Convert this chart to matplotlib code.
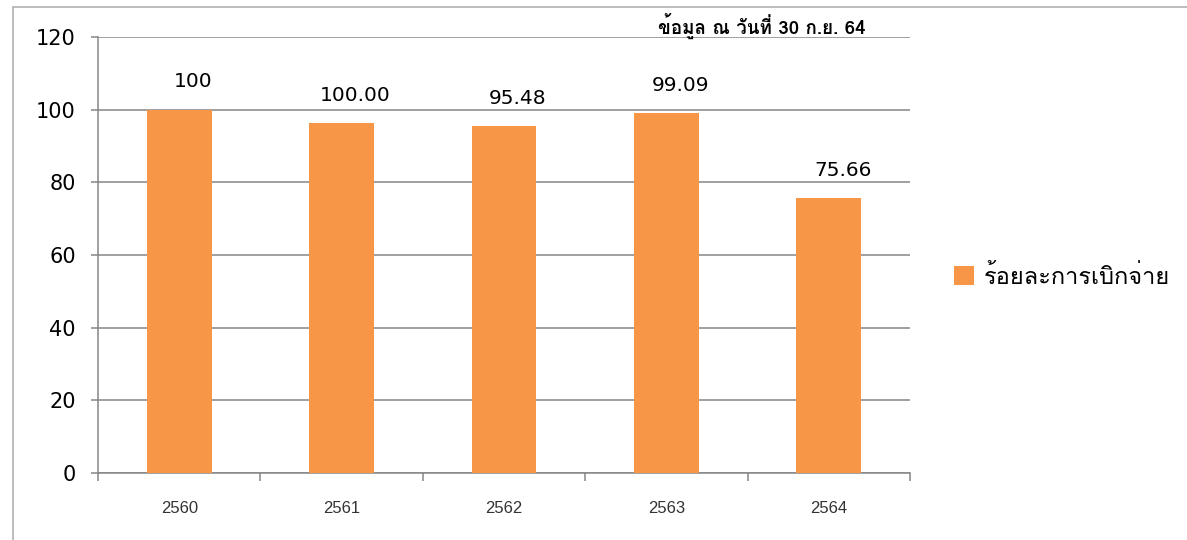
import numpy as np
import matplotlib
matplotlib.use("Agg")
import matplotlib.pyplot as plt
from matplotlib import font_manager
from matplotlib.ft2font import FT2Font
from matplotlib.patches import Rectangle

years = ["2560", "2561", "2562", "2563", "2564"]
values = [100.0, 96.3, 95.48, 99.09, 75.66]
value_labels = ["100", "100.00", "95.48", "99.09", "75.66"]
series_name = "ร้อยละการเบิกจ่าย"
note = "ข้อมูล ณ วันที่ 30 ก.ย. 64"


def find_thai_font():
    # pick any installed font that has Thai glyphs
    for f in font_manager.fontManager.ttflist:
        try:
            if ord("ก") in FT2Font(f.fname).get_charmap():
                return f.name
        except Exception:
            pass
    return "DejaVu Sans"


thai = find_thai_font()
plt.rcParams["font.family"] = [thai, "DejaVu Sans"]

bar_color = "#F79646"
grid_color = "#868686"

fig = plt.figure(figsize=(11.87, 5.40), dpi=100)
fig.patches.append(Rectangle((13 / 1187, -0.1), 1.2, 1.1 - 7 / 540, transform=fig.transFigure,
                             fill=False, edgecolor="#B0B0B0", linewidth=1.2))
ax = fig.add_axes([98 / 1187, 1 - 473 / 540, 812 / 1187, 436 / 540])

x = np.arange(len(years))
ax.bar(x, values, width=0.4, color=bar_color, zorder=3, label=series_name)

for xi, v, lab in zip(x, values, value_labels):
    ax.annotate(lab, (xi, v), xytext=(10, 20), textcoords="offset points",
                ha="center", va="center", fontsize=14.5, color="#000000",
                family=["DejaVu Sans"])

ax.set_xlim(-0.5, len(years) - 0.5)
ax.set_ylim(0, 120)
ax.set_yticks(np.arange(0, 121, 20))
ax.yaxis.grid(True, color=grid_color, linewidth=1.1, zorder=0)
ax.set_axisbelow(True)

ax.set_xticks(np.arange(-0.5, len(years), 1.0))
ax.set_xticklabels([])
ax.set_xticks(x, minor=True)
ax.set_xticklabels(years, minor=True, fontsize=12, color="#333333",
                   family=["Liberation Sans", "DejaVu Sans"])
ax.tick_params(axis="x", which="major", length=6, width=1.1, color=grid_color, direction="out")
ax.tick_params(axis="x", which="minor", length=0, pad=20)
ax.tick_params(axis="y", length=5, width=1.1, color=grid_color, pad=11, labelsize=15)
for lab in ax.get_yticklabels():
    lab.set_family(["DejaVu Sans"])

for s in ["top", "right"]:
    ax.spines[s].set_visible(False)
for s in ["left", "bottom"]:
    ax.spines[s].set_color(grid_color)
    ax.spines[s].set_linewidth(1.1)

fig.text(866 / 1187, 1 - 26 / 540, note, ha="right", va="center", fontsize=13.5, fontweight="bold")

ax.legend(loc="center left", bbox_to_anchor=(1.028, 0.45), frameon=False, fontsize=17,
          handlelength=0.85, handleheight=0.85, handletextpad=0.4)

fig.savefig("out.png", dpi=100)
